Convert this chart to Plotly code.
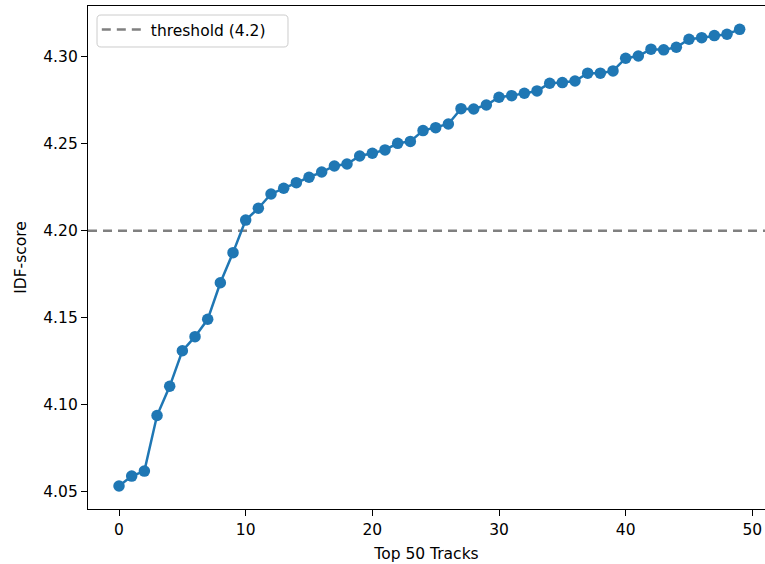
import plotly.graph_objects as go

tracks = list(range(50))
idf_scores = [
    4.0533, 4.0590, 4.0619, 4.0938, 4.1106, 4.1310, 4.1391, 4.1491, 4.1701, 4.1874,
    4.2061, 4.2129, 4.2211, 4.2244, 4.2276, 4.2307, 4.2337, 4.2372, 4.2383, 4.2429,
    4.2445, 4.2464, 4.2502, 4.2513, 4.2575, 4.2592, 4.2613, 4.2701, 4.2699, 4.2722,
    4.2767, 4.2776, 4.2790, 4.2803, 4.2847, 4.2851, 4.2860, 4.2905, 4.2905, 4.2918,
    4.2991, 4.3004, 4.3043, 4.3039, 4.3054, 4.3100, 4.3109, 4.3121, 4.3129, 4.3157,
]
threshold = 4.2
threshold_label = "threshold (4.2)"
x_title = "Top 50 Tracks"
y_title = "IDF-score"
x_ticks = [0, 10, 20, 30, 40, 50]
y_ticks = [4.05, 4.10, 4.15, 4.20, 4.25, 4.30]

x_range = [-2.45, 51.0]
y_range = [4.0401, 4.3291]

FONT = "DejaVu Sans"
FS = 15.5

fig = go.Figure()
fig.add_trace(go.Scatter(
    x=x_range, y=[threshold, threshold], mode="lines",
    line=dict(color="#808080", width=2.5, dash="9px,6px"),
    name=threshold_label, showlegend=True, hoverinfo="skip",
))
fig.add_trace(go.Scatter(
    x=tracks, y=idf_scores, mode="lines+markers",
    line=dict(color="#1f77b4", width=2.5),
    marker=dict(color="#1f77b4", size=11.5),
    showlegend=False,
))

axis_common = dict(
    showgrid=False, zeroline=False, showline=True, linecolor="black", linewidth=1.3,
    ticks="outside", ticklen=6, tickwidth=1.3, tickcolor="black",
    tickfont=dict(family=FONT, size=FS, color="black"),
)
fig.update_xaxes(range=x_range, tickvals=x_ticks, mirror=True,
                 title=dict(text=x_title, font=dict(family=FONT, size=FS, color="black"), standoff=10),
                 **axis_common)
fig.update_yaxes(range=y_range, tickvals=y_ticks, tickformat=".2f", mirror=False,
                 title=dict(text=y_title, font=dict(family=FONT, size=FS, color="black"), standoff=12),
                 **axis_common)

# legend frame (matplotlib-like rounded box)
bx0, bx1, by0, by1 = 0.0133, 0.2954, 0.9185, 0.9821
r = 0.006
ry = r * 677 / 503
frame = (f"M {bx0+r},{by0} L {bx1-r},{by0} Q {bx1},{by0} {bx1},{by0+ry} "
         f"L {bx1},{by1-ry} Q {bx1},{by1} {bx1-r},{by1} L {bx0+r},{by1} "
         f"Q {bx0},{by1} {bx0},{by1-ry} L {bx0},{by0+ry} Q {bx0},{by0} {bx0+r},{by0} Z")
fig.add_shape(type="path", path=frame, xref="paper", yref="paper",
              fillcolor="rgba(255,255,255,0.8)", line=dict(color="#cccccc", width=1), layer="above")

fig.update_layout(
    width=765, height=564,
    margin=dict(l=88, r=0, t=6, b=55, autoexpand=False),
    paper_bgcolor="white", plot_bgcolor="white",
    font=dict(family=FONT, size=FS, color="black"),
    legend=dict(x=0.013, y=0.986, xanchor="left", yanchor="top",
                bgcolor="rgba(0,0,0,0)", borderwidth=0,
                itemwidth=44,
                font=dict(family=FONT, size=FS, color="black")),
)

fig.write_html(
    "out.html",
    config={"displayModeBar": False},
    post_script="document.body.style.margin='0';document.body.style.overflow='hidden';",
)
